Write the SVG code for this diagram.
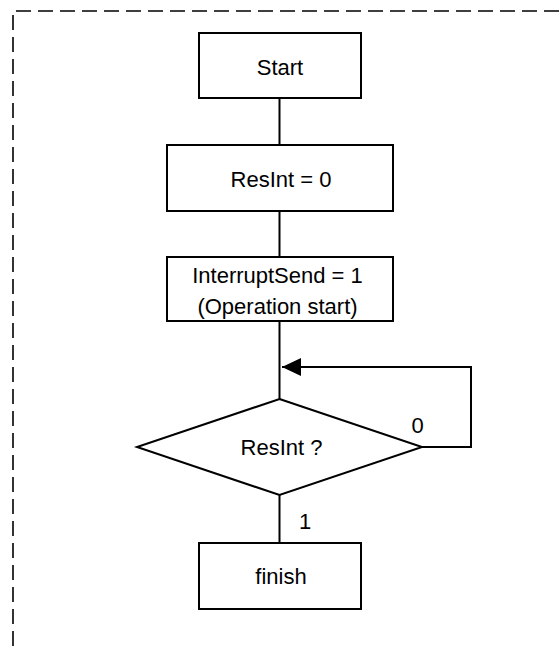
<svg xmlns="http://www.w3.org/2000/svg" width="560" height="646" viewBox="0 0 560 646">
  <style>
    .box { fill: #ffffff; stroke: #000000; stroke-width: 2; }
    .wire { fill: none; stroke: #000000; stroke-width: 2; }
    .frame { fill: none; stroke: #000000; stroke-width: 1.6; stroke-dasharray: 15 7; }
    .label { font-family: "Liberation Sans", Arial, sans-serif; font-size: 22px; fill: #000000; text-anchor: middle; }
  </style>
  <defs>
    <marker id="arrow" markerWidth="20" markerHeight="18" refX="19" refY="9" orient="auto" markerUnits="userSpaceOnUse">
      <path d="M0,0 L19,9 L0,18 Z" fill="#000000"/>
    </marker>
  </defs>

  <rect width="560" height="646" fill="#ffffff"/>

  <!-- dashed enclosing frame, running off the right and bottom edges -->
  <path class="frame" d="M13,646 V11 H560"/>

  <!-- connectors -->
  <g id="connectors">
    <line class="wire" x1="279.5" y1="98" x2="279.5" y2="145"/>
    <line class="wire" x1="279.5" y1="211" x2="279.5" y2="257"/>
    <line class="wire" x1="279.5" y1="321" x2="279.5" y2="399"/>
    <line class="wire" x1="279.5" y1="495" x2="279.5" y2="543"/>
    <path class="wire" d="M422,447 H471 V367 H282" marker-end="url(#arrow)"/>
    <text class="label" x="417.5" y="433">0</text>
    <text class="label" x="305" y="529">1</text>
  </g>

  <g id="start">
    <rect class="box" x="199" y="33" width="162" height="65"/>
    <text class="label" x="280" y="75">Start</text>
  </g>

  <g id="reset">
    <rect class="box" x="167" y="145" width="226" height="66"/>
    <text class="label" x="281" y="187">ResInt = 0</text>
  </g>

  <g id="interrupt">
    <rect class="box" x="167" y="257" width="226" height="64"/>
    <text class="label" x="277.5" y="283">InterruptSend = 1</text>
    <text class="label" x="277.5" y="314">(Operation start)</text>
  </g>

  <g id="decision">
    <polygon class="box" points="279.5,399 422,447 279.5,495 137,447"/>
    <text class="label" x="281.5" y="455">ResInt ?</text>
  </g>

  <g id="finish">
    <rect class="box" x="199" y="543" width="162" height="66"/>
    <text class="label" x="281" y="584">finish</text>
  </g>
</svg>
